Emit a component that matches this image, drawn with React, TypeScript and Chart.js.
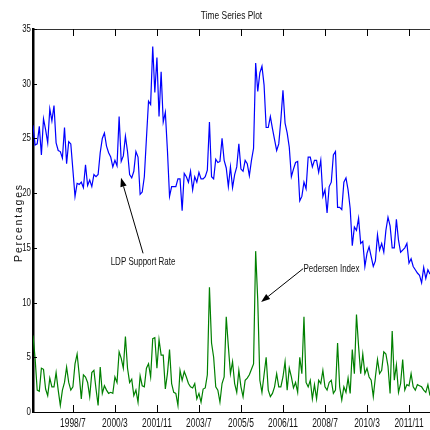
import React, { useEffect, useRef } from "react";
import { Chart, registerables } from "chart.js";

Chart.register(...registerables);

const FONT = '"Liberation Sans", Arial, sans-serif';

const xTickValues = [20, 40, 60, 80, 100, 120, 140, 160, 180];
const xTickLabels = ["1998/7", "2000/3", "2001/11", "2003/7", "2005/5", "2006/11", "2008/7", "2010/3", "2011/11"];
const yTickValues = [0, 5, 10, 15, 20, 25, 30, 35];

const ldpSupport = [
  26.2, 24.4, 24.5, 26.1, 23.5, 26.8, 25.8, 24.6, 27.7, 26.6,
  28.0, 24.6, 23.9, 23.8, 23.2, 26.0, 22.7, 24.7, 24.5, 22.1,
  19.7, 20.9, 20.8, 21.0, 20.5, 22.6, 20.7, 21.2, 20.6, 21.7,
  21.5, 21.7, 23.7, 25.0, 25.5, 24.3, 23.7, 23.3, 22.4, 23.0,
  22.5, 27.0, 22.9, 23.4, 25.2, 23.8, 21.7, 21.4, 22.0, 23.8,
  23.3, 19.9, 20.1, 21.5, 25.0, 28.4, 28.1, 33.4, 29.2, 32.4,
  27.0, 31.1, 26.5, 27.4, 23.9, 19.7, 20.6, 20.6, 20.6, 21.3,
  21.3, 18.4, 21.8, 21.5, 21.0, 22.0, 20.3, 21.5, 21.0, 21.9,
  21.3, 21.3, 21.5, 22.1, 26.5, 21.5, 21.3, 23.1, 22.8, 22.9,
  25.0, 23.0, 22.3, 20.6, 22.4, 20.5, 21.7, 22.4, 24.5, 22.2,
  22.0, 23.0, 22.7, 21.6, 23.0, 24.1, 31.9, 29.3, 31.0, 31.6,
  29.9, 26.0, 26.0, 27.0, 25.9, 24.9, 23.9, 24.5, 26.7, 29.4,
  26.4, 25.5, 24.2, 21.5, 22.2, 22.8, 22.9, 19.3, 19.7, 21.0,
  20.4, 23.3, 23.3, 22.4, 23.0, 23.0, 21.9, 23.0, 19.7, 20.3,
  18.2, 20.6, 21.0, 23.5, 23.8, 18.7, 18.7, 18.5, 21.0, 21.4,
  20.3, 18.6, 15.2, 16.9, 16.6, 17.7, 15.4, 15.6, 13.3, 14.5,
  15.1, 14.2, 13.3, 13.8, 16.2, 14.8, 15.4, 14.6, 16.6, 17.8,
  17.0, 15.0, 15.0, 17.6, 15.7, 14.6, 14.8, 15.0, 15.4, 13.6,
  14.0, 13.3, 13.0, 12.7, 12.5, 11.8, 13.2, 12.2, 13.0, 12.6,
];

const pedersenIndex = [
  7.0, 4.9, 2.0, 1.9, 4.0, 3.9, 2.1, 1.5, 3.1, 2.3,
  2.3, 3.6, 2.0, 0.6, 2.0, 2.7, 4.1, 2.7, 2.0, 2.3,
  4.4, 5.3, 3.4, 1.2, 3.4, 3.2, 2.7, 1.4, 3.6, 3.8,
  2.1, 0.6, 4.1, 1.7, 2.4, 2.0, 1.7, 1.8, 1.7, 3.2,
  2.7, 5.5, 4.9, 4.0, 6.9, 4.0, 2.7, 3.0, 1.5, 2.0,
  0.9, 3.3, 2.4, 2.3, 4.0, 4.4, 3.2, 6.7, 6.8, 4.0,
  6.6, 5.2, 5.2, 2.1, 3.5, 5.7, 2.6, 1.8, 1.7, 0.6,
  3.8, 2.9, 3.7, 3.2, 2.6, 2.3, 2.2, 2.6, 1.2, 1.7,
  0.9, 2.1, 2.2, 3.4, 11.4, 6.3, 5.0, 2.3, 2.0, 0.9,
  2.6, 3.2, 8.7, 6.0, 3.5, 4.6, 2.6, 1.8, 3.8, 2.3,
  1.4, 2.9, 3.1, 3.4, 3.9, 4.4, 14.7, 10.2, 2.9, 1.8,
  3.4, 5.0, 2.0, 1.4, 1.7, 2.3, 3.5, 2.3, 2.3, 3.2,
  4.6, 2.0, 4.0, 3.2, 2.2, 2.7, 1.8, 5.0, 3.5, 8.7,
  2.7, 2.3, 2.9, 1.2, 2.5, 1.2, 2.9, 2.6, 3.8, 2.3,
  2.0, 2.7, 2.9, 1.7, 2.0, 6.3, 2.3, 1.1, 2.3, 1.8,
  3.1, 1.7, 5.7, 3.5, 8.9, 6.0, 3.5, 5.3, 3.5, 4.0,
  3.2, 2.9, 1.4, 3.2, 4.8, 3.5, 3.8, 5.5, 5.3, 4.2,
  1.7, 7.4, 2.9, 4.3, 1.8, 2.6, 4.8, 2.0, 2.5, 2.4,
  3.5, 2.3, 2.0, 2.5, 2.4, 2.3, 2.0, 1.8, 2.5, 1.5,
];

const annotations = [
  { text: "LDP Support Rate", tip: [42.9, 21.4], tail: [53.4, 14.5], label: [53.4, 13.7], align: "center" },
  { text: "Pedersen Index", tip: [109.6, 10.05], tail: [129.6, 13.1], label: [129.8, 13.1], align: "left" },
];

function narrowText(
  ctx: CanvasRenderingContext2D,
  text: string,
  x: number,
  y: number,
  align: CanvasTextAlign,
  size: number,
  sx: number
) {
  ctx.save();
  ctx.font = `${size}px ${FONT}`;
  ctx.textBaseline = "middle";
  ctx.translate(x, y);
  ctx.scale(sx, 1);
  ctx.textAlign = align;
  ctx.fillText(text, 0, 0);
  ctx.restore();
}

const decorPlugin = {
  id: "decor",
  afterDraw(chart: any) {
    const { ctx, chartArea, scales } = chart;
    const xs = scales.x;
    const ys = scales.y;
    const { left, right, top, bottom } = chartArea;
    ctx.save();
    ctx.strokeStyle = "#333";
    ctx.lineWidth = 1;
    ctx.beginPath();
    ctx.moveTo(left, top + 0.5);
    ctx.lineTo(right, top + 0.5);
    ctx.stroke();
    ctx.strokeStyle = "#000";
    ctx.beginPath();
    xs.ticks.forEach((t: any) => {
      const px = Math.round(xs.getPixelForValue(t.value)) + 0.5;
      ctx.moveTo(px, bottom);
      ctx.lineTo(px, bottom - 7);
      ctx.moveTo(px, top);
      ctx.lineTo(px, top + 7);
    });
    ys.ticks.forEach((t: any) => {
      const py = Math.round(ys.getPixelForValue(t.value)) + 0.5;
      ctx.moveTo(left, py);
      ctx.lineTo(left + 4, py);
    });
    ctx.stroke();

    ctx.fillStyle = "#111";
    xs.ticks.forEach((t: any) => {
      const idx = xTickValues.indexOf(t.value);
      const lbl = idx >= 0 ? xTickLabels[idx] : String(t.value);
      narrowText(ctx, lbl, xs.getPixelForValue(t.value), bottom + 11.5, "center", 12, 0.7);
    });
    ys.ticks.forEach((t: any) => {
      narrowText(ctx, String(t.value), left - 2, ys.getPixelForValue(t.value), "right", 11, 0.72);
    });

    narrowText(ctx, "Time Series Plot", (left + right) / 2, 16, "center", 10.5, 0.8);

    ctx.save();
    ctx.translate(19, (top + bottom) / 2 + 2);
    ctx.rotate(-Math.PI / 2);
    ctx.font = `10.5px ${FONT}`;
    try {
      (ctx as any).letterSpacing = "1.8px";
    } catch (e) {}
    ctx.textAlign = "center";
    ctx.textBaseline = "middle";
    ctx.fillText("Percentages", 0, 0);
    ctx.restore();

    annotations.forEach((a) => {
      const tx = xs.getPixelForValue(a.tip[0]);
      const ty = ys.getPixelForValue(a.tip[1]);
      const sx = xs.getPixelForValue(a.tail[0]);
      const sy = ys.getPixelForValue(a.tail[1]);
      const ang = Math.atan2(ty - sy, tx - sx);
      const hl = 9;
      const hw = 3.2;
      const bx = tx - hl * Math.cos(ang);
      const by = ty - hl * Math.sin(ang);
      ctx.strokeStyle = "#000";
      ctx.lineWidth = 1;
      ctx.beginPath();
      ctx.moveTo(sx, sy);
      ctx.lineTo(bx, by);
      ctx.stroke();
      ctx.fillStyle = "#000";
      ctx.beginPath();
      ctx.moveTo(tx, ty);
      ctx.lineTo(bx + hw * Math.sin(ang), by - hw * Math.cos(ang));
      ctx.lineTo(bx - hw * Math.sin(ang), by + hw * Math.cos(ang));
      ctx.closePath();
      ctx.fill();
      ctx.fillStyle = "#111";
      narrowText(ctx, a.text, xs.getPixelForValue(a.label[0]), ys.getPixelForValue(a.label[1]), a.align as CanvasTextAlign, 10.5, 0.76);
    });
    ctx.restore();
  },
};

export default function App() {
  const ref = useRef<HTMLCanvasElement | null>(null);
  useEffect(() => {
    if (!ref.current) return;
    const chart = new Chart(ref.current, {
      type: "line",
      data: {
        datasets: [
          {
            label: "LDP Support Rate",
            data: ldpSupport.map((v, k) => ({ x: k + 1, y: v })),
            borderColor: "#0000ff",
            borderWidth: 1.2,
            pointRadius: 0,
            tension: 0,
          },
          {
            label: "Pedersen Index",
            data: pedersenIndex.map((v, k) => ({ x: k + 1, y: v })),
            borderColor: "#008000",
            borderWidth: 1.2,
            pointRadius: 0,
            tension: 0,
          },
        ],
      },
      options: {
        animation: false,
        responsive: false,
        maintainAspectRatio: false,
        events: [],
        layout: { padding: { top: 29, right: 0, left: 0, bottom: 0 } },
        plugins: { legend: { display: false }, tooltip: { enabled: false }, title: { display: false } },
        scales: {
          x: {
            type: "linear",
            min: 1,
            max: 190,
            grid: { display: false, drawTicks: false },
            border: { display: true, color: "#000", width: 1 },
            afterBuildTicks: (axis: any) => {
              axis.ticks = xTickValues.map((v) => ({ value: v }));
            },
            afterFit: (s: any) => {
              s.height = 18;
            },
            ticks: { display: false },
          },
          y: {
            min: 0,
            max: 35,
            grid: { display: false, drawTicks: false },
            border: { display: true, color: "#000", width: 2.5 },
            afterBuildTicks: (axis: any) => {
              axis.ticks = yTickValues.map((v) => ({ value: v }));
            },
            afterFit: (s: any) => {
              s.width = 33;
            },
            ticks: { display: false },
          },
        },
      },
      plugins: [decorPlugin],
    } as any);
    return () => chart.destroy();
  }, []);
  return (
    <div style={{ position: "fixed", left: 0, top: 0, width: 430, height: 430, background: "#fff" }}>
      <canvas ref={ref} width={430} height={430} style={{ display: "block", width: 430, height: 430 }} />
    </div>
  );
}
